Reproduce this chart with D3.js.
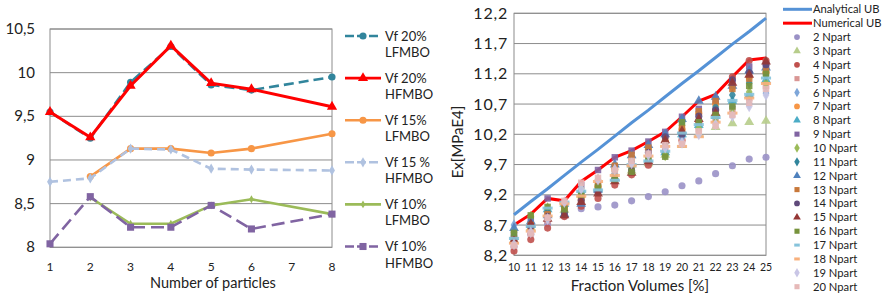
<!DOCTYPE html>
<html>
<head>
<meta charset="utf-8">
<script src="https://cdnjs.cloudflare.com/ajax/libs/d3/7.8.5/d3.min.js"></script>
<style>
body { margin: 0; background: #fff; }
svg { display: block; font-family: Lato, "Open Sans", sans-serif; }
</style>
</head>
<body>
<svg id="canvas" width="884" height="294"></svg>
<script>
// ---- Left chart data ----
const leftX = [1, 2, 3, 4, 5, 6, 8];
const leftXTicks = [1, 2, 3, 4, 5, 6, 7, 8];
const leftYTicks = [8, 8.5, 9, 9.5, 10, 10.5];
const vf20L = [9.55, 9.25, 9.89, 10.30, 9.86, 9.80, 9.95];
const vf20H = [9.55, 9.26, 9.85, 10.31, 9.88, 9.81, 9.61];
const vf15L = [null, 8.81, 9.13, 9.13, 9.08, 9.13, 9.30];
const vf15H = [8.75, 8.79, 9.13, 9.12, 8.90, 8.89, 8.88];
const vf10L = [null, 8.57, 8.27, 8.27, 8.48, 8.55, 8.38];
const vf10H = [8.04, 8.58, 8.23, 8.23, 8.48, 8.21, 8.38];

// ---- Right chart data ----
const fracX = [10, 11, 12, 13, 14, 15, 16, 17, 18, 19, 20, 21, 22, 23, 24, 25];
const rightYTicks = [8.2, 8.7, 9.2, 9.7, 10.2, 10.7, 11.2, 11.7, 12.2];
const analyticalUB = [8.87, 9.09, 9.30, 9.52, 9.74, 9.95, 10.17, 10.39, 10.60, 10.82, 11.04, 11.25, 11.47, 11.69, 11.90, 12.12];
const numericalUB = [8.70, 8.88, 9.14, 9.10, 9.42, 9.61, 9.82, 9.93, 10.08, 10.24, 10.49, 10.75, 10.86, 11.15, 11.43, 11.46];
const np2  = [8.34, 8.55, 8.72, 8.85, 8.97, 9.00, 9.03, 9.10, 9.17, 9.25, 9.35, 9.43, 9.55, 9.68, 9.79, 9.82];
const np3  = [8.45, 8.66, 8.88, 8.95, 9.20, 9.30, 9.48, 9.60, 9.72, 9.86, 10.02, 10.20, 10.32, 10.38, 10.40, 10.42];
const np4  = [8.27, 8.46, 8.65, 8.84, 9.01, 9.14, 9.36, 9.53, 9.69, 9.90, 10.10, 10.40, 10.60, 11.15, 11.42, 11.42];
const np5  = [8.38, 8.58, 8.78, 8.92, 9.18, 9.30, 9.50, 9.66, 9.80, 9.95, 10.10, 10.28, 10.45, 10.62, 10.80, 11.00];
const np6  = [8.70, 8.62, 8.82, 8.96, 9.25, 9.40, 9.58, 9.72, 9.86, 10.00, 10.15, 10.32, 10.48, 10.66, 10.70, 10.88];
const np7  = [8.48, 8.66, 8.90, 9.00, 9.12, 9.34, 9.62, 9.80, 9.95, 10.08, 10.28, 10.55, 10.70, 10.98, 11.15, 11.22];
const np8  = [8.50, 8.70, 8.96, 9.05, 9.28, 9.30, 9.48, 9.70, 9.78, 9.90, 10.20, 10.35, 10.50, 10.75, 10.85, 11.10];
const np9  = [8.55, 8.80, 9.14, 9.04, 9.36, 9.61, 9.82, 9.93, 10.08, 10.24, 10.49, 10.62, 10.78, 11.05, 11.32, 11.35];
const np10 = [8.58, 8.84, 8.98, 8.95, 9.30, 9.45, 9.62, 9.64, 9.96, 9.85, 10.35, 10.30, 10.40, 10.55, 10.90, 11.05];
const np11 = [8.52, 8.74, 8.92, 8.92, 9.22, 9.38, 9.55, 9.75, 9.92, 10.05, 10.40, 10.45, 10.65, 10.85, 11.05, 11.18];
const np12 = [8.65, 8.76, 8.86, 8.88, 9.05, 9.28, 9.70, 9.85, 10.02, 10.20, 10.45, 10.75, 10.82, 11.00, 11.25, 11.30];
const np13 = [8.46, 8.70, 8.88, 8.98, 9.15, 9.36, 9.68, 9.86, 9.98, 10.12, 10.30, 10.58, 10.75, 10.95, 11.12, 11.25];
const np14 = [8.42, 8.68, 8.84, 8.90, 9.10, 9.25, 9.45, 9.60, 9.90, 10.16, 10.20, 10.50, 10.60, 11.10, 11.22, 11.35];
const np15 = [8.44, 8.72, 8.80, 8.86, 9.08, 9.22, 9.42, 9.56, 9.75, 10.10, 10.25, 10.45, 10.55, 11.05, 11.18, 11.40];
const np16 = [8.57, 8.86, 9.00, 8.96, 9.20, 9.32, 9.46, 9.58, 9.82, 9.83, 10.40, 10.40, 10.52, 10.66, 11.00, 11.20];
const np17 = [8.48, 8.68, 8.98, 9.08, 9.26, 9.28, 9.44, 9.70, 9.76, 9.92, 10.22, 10.36, 10.48, 10.76, 10.86, 11.13];
const np18 = [8.40, 8.60, 8.85, 9.05, 9.18, 9.42, 9.52, 9.68, 9.84, 10.00, 10.00, 10.16, 10.40, 10.55, 10.80, 11.04];
const np19 = [8.38, 8.58, 8.80, 9.08, 9.30, 9.45, 9.62, 9.72, 9.86, 9.98, 10.06, 10.20, 10.36, 10.50, 10.66, 10.85];
const np20 = [8.36, 8.56, 8.82, 9.10, 9.40, 9.48, 9.60, 9.76, 9.88, 10.02, 10.04, 10.25, 10.34, 10.52, 10.72, 10.95];

const svg = d3.select('#canvas');
const locale = d3.formatLocale({ decimal: ',', thousands: '.', grouping: [3], currency: ['', ''] });
const fmt = locale.format('~g');
const gridColor = '#8c8c8c';
const textColor = '#222';

// ================= Left chart =================
const lx = d3.scaleLinear().domain([1, 8]).range([50, 332]);
const ly = d3.scaleLinear().domain([8, 10.5]).range([247.3, 29]);
const left = svg.append('g');

left.selectAll('line.grid')
    .data(leftYTicks)
    .enter()
    .append('line')
    .attr('x1', lx(1)).attr('x2', lx(8))
    .attr('y1', d => ly(d)).attr('y2', d => ly(d))
    .attr('stroke', gridColor).attr('stroke-width', 1);

left.append('rect')
    .attr('x', lx(1)).attr('y', ly(10.5))
    .attr('width', lx(8) - lx(1)).attr('height', ly(8) - ly(10.5))
    .attr('fill', 'none').attr('stroke', gridColor).attr('stroke-width', 1);

left.selectAll('text.ytick')
    .data(leftYTicks)
    .enter()
    .append('text')
    .attr('x', 35).attr('y', d => ly(d) + 5)
    .attr('text-anchor', 'end')
    .attr('font-size', 15).attr('fill', textColor)
    .text(d => fmt(d));

left.selectAll('text.xtick')
    .data(leftXTicks)
    .enter()
    .append('text')
    .attr('x', d => lx(d)).attr('y', 271)
    .attr('text-anchor', 'middle')
    .attr('font-size', 12).attr('fill', textColor)
    .text(d => d);

left.append('text')
    .attr('x', 213).attr('y', 288)
    .attr('text-anchor', 'middle')
    .attr('font-size', 14.5).attr('fill', textColor)
    .text('Number of particles');

const leftSeries = [
    { name: ['Vf 20%', 'LFMBO'], values: vf20L, color: '#31859c', dash: '10,5', symbol: d3.symbolCircle, size: 40 },
    { name: ['Vf 20%', 'HFMBO'], values: vf20H, color: '#ff0000', dash: null, symbol: d3.symbolTriangle, size: 45 },
    { name: ['Vf 15%', 'LFMBO'], values: vf15L, color: '#f79646', dash: null, symbol: d3.symbolCircle, size: 40 },
    { name: ['Vf 15 %', 'HFMBO'], values: vf15H, color: '#b0c2e0', dash: '8,5', symbol: d3.symbolDiamond, size: 30 },
    { name: ['Vf 10%', 'LFMBO'], values: vf10L, color: '#9bbb59', dash: null, symbol: d3.symbolDiamond, size: 18 },
    { name: ['Vf 10%', 'HFMBO'], values: vf10H, color: '#8064a2', dash: '13,6', symbol: d3.symbolSquare, size: 50 }
];

const leftLine = d3.line()
    .defined(d => d.v !== null)
    .x(d => lx(d.x))
    .y(d => ly(d.v));

leftSeries.forEach((s, i) => {
    const pts = leftX.map((x, j) => ({ x: x, v: s.values[j] }));
    left.append('path')
        .datum(pts)
        .attr('d', leftLine)
        .attr('fill', 'none')
        .attr('stroke', s.color)
        .attr('stroke-width', s.color === '#ff0000' ? 3 : 2.6)
        .attr('stroke-dasharray', s.dash);
    left.selectAll(null)
        .data(pts.filter(d => d.v !== null))
        .enter()
        .append('path')
        .attr('transform', d => `translate(${lx(d.x)},${ly(d.v)})`)
        .attr('d', d3.symbol().type(s.symbol).size(s.size))
        .attr('fill', s.color);

    // legend
    const ly0 = 36 + i * 42.1;
    const lg = left.append('g');
    lg.append('line')
        .attr('x1', 345).attr('x2', 381)
        .attr('y1', ly0).attr('y2', ly0)
        .attr('stroke', s.color).attr('stroke-width', 2.6)
        .attr('stroke-dasharray', s.dash ? '9,3' : null);
    lg.append('path')
        .attr('transform', `translate(363,${ly0})`)
        .attr('d', d3.symbol().type(s.symbol).size(s.size))
        .attr('fill', s.color);
    lg.selectAll('text')
        .data(s.name)
        .enter()
        .append('text')
        .attr('x', 385).attr('y', (d, k) => ly0 + 4.5 + k * 16.5)
        .attr('font-size', 13).attr('fill', textColor)
        .text(d => d);
});

// ================= Right chart =================
const rx = d3.scaleLinear().domain([10, 25]).range([514, 766]);
const ry = d3.scaleLinear().domain([8.2, 12.2]).range([255.3, 13.3]);
const right = svg.append('g');

right.selectAll('line.grid')
    .data(rightYTicks)
    .enter()
    .append('line')
    .attr('x1', rx(10)).attr('x2', rx(25))
    .attr('y1', d => ry(d)).attr('y2', d => ry(d))
    .attr('stroke', gridColor).attr('stroke-width', 1);

right.append('rect')
    .attr('x', rx(10)).attr('y', ry(12.2))
    .attr('width', rx(25) - rx(10)).attr('height', ry(8.2) - ry(12.2))
    .attr('fill', 'none').attr('stroke', gridColor).attr('stroke-width', 1);

right.selectAll('text.ytick')
    .data(rightYTicks)
    .enter()
    .append('text')
    .attr('x', 508).attr('y', d => ry(d) + 5.5)
    .attr('text-anchor', 'end')
    .attr('font-size', 16).attr('fill', textColor)
    .attr('letter-spacing', 0.8)
    .text(d => fmt(d));

right.selectAll('text.xtick')
    .data(fracX)
    .enter()
    .append('text')
    .attr('x', d => rx(d)).attr('y', 271)
    .attr('text-anchor', 'middle')
    .attr('font-size', 10.5).attr('fill', textColor)
    .text(d => d);

right.append('text')
    .attr('x', 640).attr('y', 291)
    .attr('text-anchor', 'middle')
    .attr('font-size', 15).attr('fill', textColor)
    .text('Fraction Volumes [%]');

right.append('text')
    .attr('transform', 'translate(463,142) rotate(-90)')
    .attr('text-anchor', 'middle')
    .attr('font-size', 15).attr('fill', textColor)
    .text('Ex[MPaE4]');

const rightLine = d3.line()
    .x((d, i) => rx(fracX[i]))
    .y(d => ry(d));

const ubSeries = [
    { name: 'Analytical UB', values: analyticalUB, color: '#5592d6' },
    { name: 'Numerical UB', values: numericalUB, color: '#ff0000' }
];

ubSeries.forEach((s, i) => {
    right.append('path')
        .datum(s.values)
        .attr('d', rightLine)
        .attr('fill', 'none')
        .attr('stroke', s.color)
        .attr('stroke-width', 3);
});

const dashSymbol = {
    draw(ctx, size) {
        const w = Math.sqrt(size) * 1.6, h = 3;
        ctx.rect(-w / 2, -h / 2, w, h);
    }
};

const npSeries = [
    { name: '2 Npart', values: np2, color: '#9a91c6', symbol: d3.symbolCircle },
    { name: '3 Npart', values: np3, color: '#b7cd8b', symbol: d3.symbolTriangle },
    { name: '4 Npart', values: np4, color: '#c0504d', symbol: d3.symbolCircle },
    { name: '5 Npart', values: np5, color: '#d99694', symbol: d3.symbolSquare },
    { name: '6 Npart', values: np6, color: '#7ea6d9', symbol: d3.symbolDiamond },
    { name: '7 Npart', values: np7, color: '#f79646', symbol: d3.symbolCircle },
    { name: '8 Npart', values: np8, color: '#4bacc6', symbol: d3.symbolTriangle },
    { name: '9 Npart', values: np9, color: '#8064a2', symbol: d3.symbolSquare },
    { name: '10 Npart', values: np10, color: '#9bbb59', symbol: d3.symbolDiamond },
    { name: '11 Npart', values: np11, color: '#31859c', symbol: d3.symbolDiamond },
    { name: '12 Npart', values: np12, color: '#4f81bd', symbol: d3.symbolTriangle },
    { name: '13 Npart', values: np13, color: '#c8783a', symbol: d3.symbolSquare },
    { name: '14 Npart', values: np14, color: '#5f497a', symbol: d3.symbolCircle },
    { name: '15 Npart', values: np15, color: '#953735', symbol: d3.symbolTriangle },
    { name: '16 Npart', values: np16, color: '#77933c', symbol: d3.symbolSquare },
    { name: '17 Npart', values: np17, color: '#86c3db', symbol: dashSymbol },
    { name: '18 Npart', values: np18, color: '#f8b07c', symbol: dashSymbol },
    { name: '19 Npart', values: np19, color: '#c9c6e6', symbol: d3.symbolDiamond },
    { name: '20 Npart', values: np20, color: '#e6b9b8', symbol: d3.symbolSquare }
];

const symSize = s => (s === d3.symbolSquare ? 42 : s === d3.symbolTriangle ? 42 : 40);

npSeries.forEach(s => {
    right.selectAll(null)
        .data(s.values)
        .enter()
        .append('path')
        .attr('transform', (d, i) => `translate(${rx(fracX[i])},${ry(d)})`)
        .attr('d', d3.symbol().type(s.symbol).size(symSize(s.symbol)))
        .attr('fill', s.color)
        .attr('fill-opacity', 0.9);
});

// right legend
const legendStep = 13.87;
const legendFont = 11.2;
ubSeries.forEach((s, i) => {
    const y = 9.3 + i * legendStep;
    right.append('line')
        .attr('x1', 783).attr('x2', 812)
        .attr('y1', y).attr('y2', y)
        .attr('stroke', s.color).attr('stroke-width', 3);
    right.append('text')
        .attr('x', 813).attr('y', y + 4)
        .attr('font-size', legendFont).attr('fill', textColor)
        .text(s.name);
});

npSeries.forEach((s, i) => {
    const y = 9.3 + (i + 2) * legendStep;
    right.append('path')
        .attr('transform', `translate(797,${y})`)
        .attr('d', d3.symbol().type(s.symbol).size(s.symbol === dashSymbol ? 12 : 26))
        .attr('fill', s.color);
    right.append('text')
        .attr('x', 813).attr('y', y + 4)
        .attr('font-size', legendFont).attr('fill', textColor)
        .text(s.name);
});
</script>
</body>
</html>
